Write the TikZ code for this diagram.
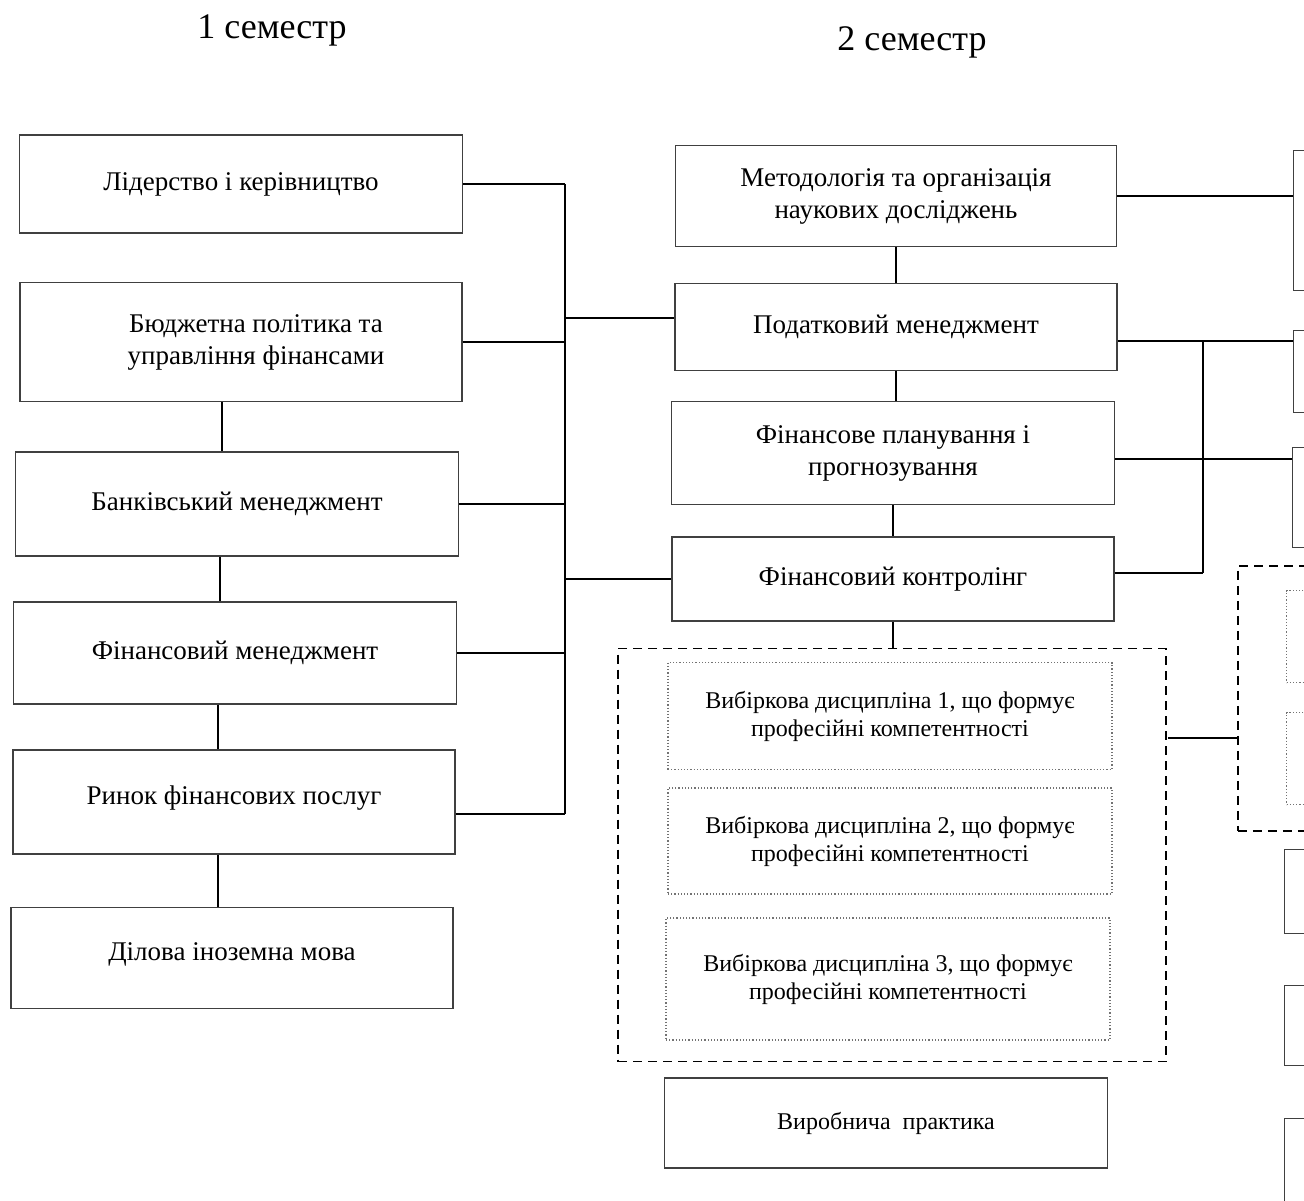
\documentclass[tikz,border=0pt]{standalone}
\usepackage{fontspec}
\setmainfont{Liberation Serif}
\begin{document}
\begin{tikzpicture}[
  x=1pt, y=-1pt,
  block_main/.style={rectangle, draw=black!75, line width=1.3pt, text centered, align=center,
    font=\fontsize{27}{32}\selectfont, inner sep=0pt},
  block_elect/.style={rectangle, draw=black!55, dotted, line width=1.2pt, text centered, align=center,
    font=\fontsize{24}{28}\selectfont, inner sep=0pt},
  group/.style={rectangle, draw=black, line width=1.6pt, dash pattern=on 9pt off 6pt, inner sep=0pt},
  title/.style={font=\fontsize{36}{40}\selectfont},
  line/.style={draw, -, line width=1.6pt}
  ]
\useasboundingbox (0,0) rectangle (1304,1200);
\clip (0,0) rectangle (1304,1200);

\node [title] (sem1) at (272,30) {1 семестр};
\node [title] (sem2) at (912,42) {2 семестр};

% 1 semester
\node [block_main, minimum width=443pt, minimum height=98pt] (lid) at (241,184) {Лідерство і керівництво};
\node [block_main, minimum width=442pt, minimum height=119pt] (budg) at (241,342) {\hspace*{30pt}Бюджетна політика та\\\hspace*{30pt}управління фінансами};
\node [block_main, minimum width=443pt, minimum height=104pt] (bank) at (237,504) {Банківський менеджмент};
\node [block_main, minimum width=443pt, minimum height=102pt] (finm) at (235,653) {Фінансовий менеджмент};
\node [block_main, minimum width=442pt, minimum height=104pt] (rynok) at (234,802) {\raisebox{14pt}{Ринок фінансових послуг}};
\node [block_main, minimum width=442pt, minimum height=101pt] (dilova) at (232,958) {\raisebox{12pt}{Ділова іноземна мова}};

% 2 semester
\node [block_main, minimum width=441pt, minimum height=101pt] (meth) at (896,196) {Методологія та організація\\наукових досліджень};
\node [block_main, minimum width=442pt, minimum height=87pt] (pod) at (896,327) {Податковий менеджмент};
\node [block_main, minimum width=443pt, minimum height=103pt] (plan) at (893,453) {Фінансове планування і\\прогнозування};
\node [block_main, minimum width=442pt, minimum height=84pt] (kontr) at (893,579) {Фінансовий контролінг};

\node [group, minimum width=548pt, minimum height=413pt] (grp) at (892,855) {};
\node [block_elect, minimum width=444pt, minimum height=107pt] (el1) at (890,716) {Вибіркова дисципліна 1, що формує\\професійні компетентності};
\node [block_elect, minimum width=444pt, minimum height=106pt] (el2) at (890,841) {Вибіркова дисципліна 2, що формує\\професійні компетентності};
\node [block_elect, minimum width=444pt, minimum height=122pt] (el3) at (888,979) {Вибіркова дисципліна 3, що формує\\професійні компетентності};
\node [block_main, minimum width=443pt, minimum height=90pt, font=\fontsize{24}{28}\selectfont] (prakt) at (886,1123) {Виробнича\ \ практика};

% 3 semester (cut off)
\node [block_main, anchor=north west, minimum width=120pt, minimum height=140pt] (nx1) at (1293,150) {};
\node [block_main, anchor=north west, minimum width=120pt, minimum height=82pt] (nx2) at (1293,330) {};
\node [block_main, anchor=north west, minimum width=120pt, minimum height=100pt] (nx3) at (1292,447) {};
\node [group, anchor=north west, minimum width=120pt, minimum height=265pt] (grp2) at (1237,565) {};
\node [block_elect, anchor=north west, minimum width=60pt, minimum height=92pt] (nx4) at (1286,590) {};
\node [block_elect, anchor=north west, minimum width=60pt, minimum height=92pt] (nx5) at (1286,712) {};
\node [block_main, anchor=north west, minimum width=120pt, minimum height=84pt] (nx6) at (1284,849) {};
\node [block_main, anchor=north west, minimum width=120pt, minimum height=80pt] (nx7) at (1284,985) {};
\node [block_main, anchor=north west, minimum width=120pt, minimum height=120pt] (nx8) at (1284,1118) {};

\coordinate (busL) at (565,0);
\coordinate (busR) at (1203,0);
\coordinate (gout) at (1168,738);

\path [line] ([xshift=-19pt]budg.south) -- ([xshift=-19pt]budg.south |- bank.north);
\path [line] ([xshift=-17pt]bank.south) -- ([xshift=-17pt]bank.south |- finm.north);
\path [line] ([xshift=-17pt]finm.south) -- ([xshift=-17pt]finm.south |- rynok.north);
\path [line] ([xshift=-16pt]rynok.south) -- ([xshift=-16pt]rynok.south |- dilova.north);

\path [line] (lid.east) -- (lid.east -| busL);
\path [line] (budg.east) -- (budg.east -| busL);
\path [line] (bank.east) -- (bank.east -| busL);
\path [line] (finm.east) -- (finm.east -| busL);
\path [line] ([yshift=-12pt]rynok.east) -- ([yshift=-12pt]rynok.east -| busL);
\path [line] (lid.east -| busL) -- ([yshift=-12pt]rynok.east -| busL);
\path [line] ([yshift=9pt]pod.west -| busL) -- ([yshift=9pt]pod.west);
\path [line] (kontr.west -| busL) -- (kontr.west);

\path [line] (meth.south) -- (meth.south |- pod.north);
\path [line] (pod.south) -- (pod.south |- plan.north);
\path [line] (plan.south) -- (plan.south |- kontr.north);
\path [line] (kontr.south) -- (kontr.south |- grp.north);

\path [line] (meth.east) -- (meth.east -| nx1.west);
\path [line] ([yshift=-14pt]pod.east) -- ([yshift=-14pt]pod.east -| nx2.west);
\path [line] ([yshift=-6pt]plan.east) -- ([yshift=-6pt]plan.east -| nx3.west);
\path [line] ([yshift=6pt]kontr.east) -- ([yshift=6pt]kontr.east -| busR);
\path [line] ([yshift=-14pt]pod.east -| busR) -- ([yshift=6pt]kontr.east -| busR);
\path [line] (gout) -- (gout -| grp2.west);

\end{tikzpicture}
\end{document}
